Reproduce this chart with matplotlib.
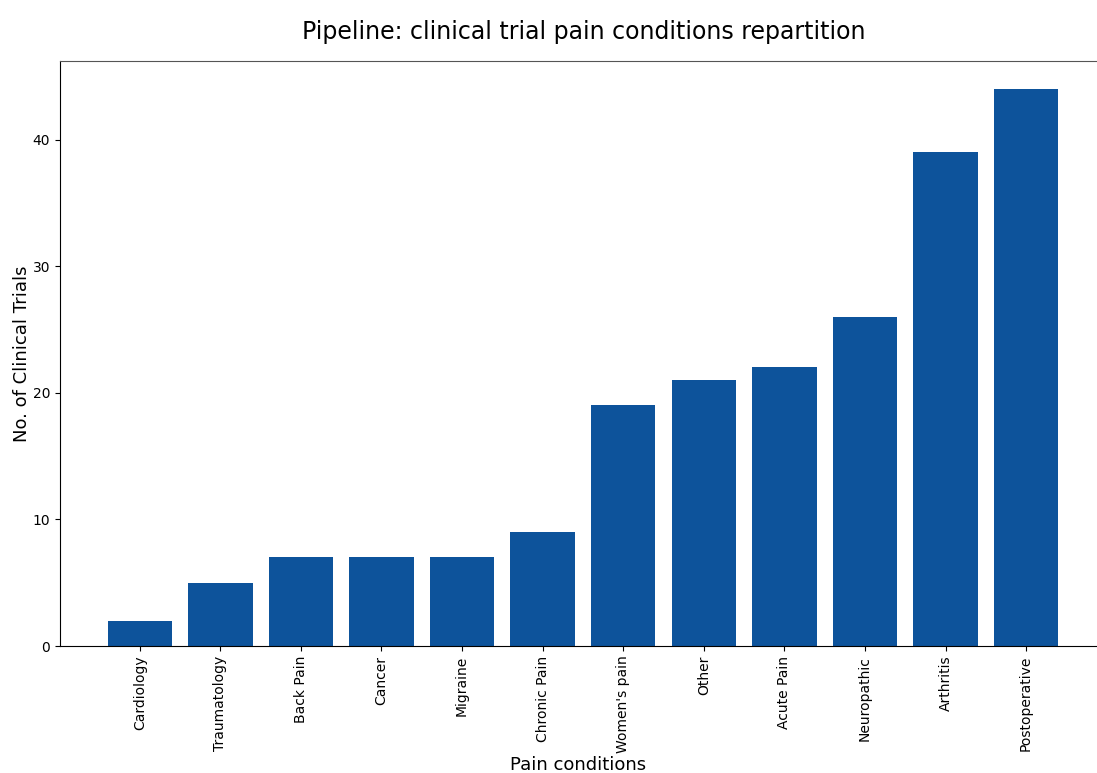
import matplotlib
matplotlib.use('Agg')
import matplotlib.pyplot as plt

conditions = ['Cardiology', 'Traumatology', 'Back Pain', 'Cancer', 'Migraine',
              'Chronic Pain', "Women's pain", 'Other', 'Acute Pain',
              'Neuropathic', 'Arthritis', 'Postoperative']
trials = [2, 5, 7, 7, 7, 9, 19, 21, 22, 26, 39, 44]

fig = plt.figure(figsize=(10.97, 7.73), dpi=100)
ax = fig.add_axes([60 / 1097, 1 - 646 / 773, 1 - 60 / 1097, (646 - 61) / 773])

ax.bar(range(len(conditions)), trials, width=0.8, color='#0d539b')
ax.set_xticks(range(len(conditions)))
ax.set_xticklabels(conditions, rotation=90, fontsize=10)
ax.tick_params(axis='y', labelsize=10)
ax.set_xlim(-0.99, 11.88)
ax.set_ylim(0, 46.2)
ax.spines['right'].set_visible(False)
ax.spines['top'].set_color('#555555')

ax.set_xlabel('Pain conditions', fontsize=13, labelpad=2)
ax.set_ylabel('No. of Clinical Trials', fontsize=13, labelpad=1)
ax.set_title('Pipeline: clinical trial pain conditions repartition', fontsize=17, pad=16,
             x=0.505)

fig.savefig('out.png', dpi=100)
